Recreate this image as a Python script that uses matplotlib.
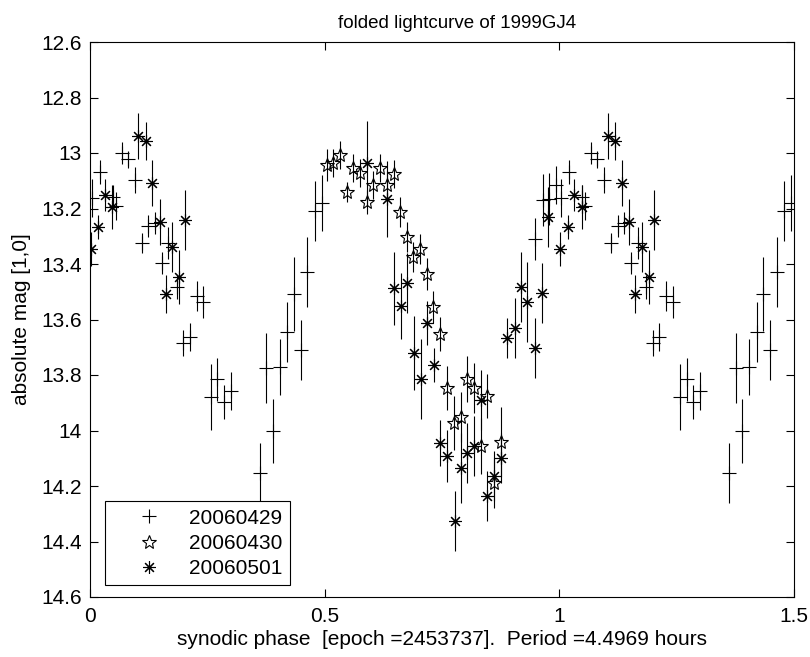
import matplotlib

matplotlib.use("Agg")
import matplotlib.pyplot as plt
import numpy as np
from matplotlib.lines import Line2D

# 20060429 (plus)
fase_0429 = [0.0036, 0.0213, 0.049, 0.055, 0.0675, 0.0803, 0.0959, 0.110, 0.1243,
             0.1385, 0.1528, 0.1669, 0.1847, 0.1988, 0.2131, 0.2273, 0.2415, 0.2572,
             0.2713, 0.2855, 0.2997, 0.3616, 0.3759, 0.3901, 0.4043, 0.4207, 0.4349,
             0.4491, 0.4634, 0.4790, 0.4946, 0.9482, 0.9659, 0.978, 0.993]
mag_0429 = [13.161, 13.067, 13.16, 13.19, 13.001, 13.023, 13.097, 13.325, 13.263,
            13.251, 13.397, 13.323, 13.484, 13.684, 13.664, 13.514, 13.536, 13.878,
            13.816, 13.896, 13.857, 14.152, 13.776, 14.001, 13.772, 13.644, 13.508,
            13.710, 13.428, 13.209, 13.179, 13.311, 13.169, 13.166, 13.115]
err_0429 = [0.068, 0.043, 0.043, 0.050, 0.040, 0.032, 0.047, 0.036, 0.040,
            0.040, 0.040, 0.058, 0.043, 0.047, 0.050, 0.054, 0.058, 0.119,
            0.076, 0.061, 0.068, 0.108, 0.126, 0.115, 0.101, 0.108, 0.133,
            0.108, 0.126, 0.108, 0.101, 0.076, 0.094, 0.094, 0.068]

# 20060430 (estrela)
fase_0430 = [0.5044, 0.5184, 0.5327, 0.548, 0.5611, 0.5753, 0.5910, 0.6038, 0.6180,
             0.6336, 0.6478, 0.6606, 0.6748, 0.689, 0.7032, 0.7174, 0.7315, 0.7466,
             0.7613, 0.7756, 0.7898, 0.8039, 0.8181, 0.8323, 0.8465, 0.8611, 0.875]
mag_0430 = [13.043, 13.037, 13.007, 13.139, 13.053, 13.071, 13.176, 13.115, 13.053,
            13.115, 13.077, 13.212, 13.302, 13.374, 13.347, 13.436, 13.554, 13.652,
            13.848, 13.972, 13.950, 13.816, 13.848, 14.056, 13.876, 14.188, 14.043]
err_0430 = [0.058, 0.050, 0.050, 0.036, 0.050, 0.050, 0.043, 0.050, 0.050,
            0.050, 0.050, 0.054, 0.054, 0.054, 0.054, 0.058, 0.058, 0.061,
            0.079, 0.097, 0.090, 0.083, 0.090, 0.101, 0.079, 0.090, 0.126]

# 20060501 (asterisco)
fase_0501 = [0.0021, 0.0177, 0.032, 0.0475, 0.1029, 0.1187, 0.1328, 0.1492, 0.1613,
             0.1754, 0.1903, 0.2024, 0.5895, 0.6336, 0.6478, 0.662, 0.6762, 0.6904,
             0.7046, 0.7187, 0.7329, 0.7466, 0.7613, 0.7777, 0.7898, 0.804, 0.818,
             0.8323, 0.8465, 0.8611, 0.875, 0.8892, 0.9056, 0.9177, 0.9305, 0.9482,
             0.9625, 0.9766]
mag_0501 = [13.347, 13.266, 13.151, 13.196, 12.939, 12.957, 13.109, 13.248, 13.508,
            13.338, 13.446, 13.241, 13.035, 13.166, 13.488, 13.551, 13.467, 13.720,
            13.814, 13.614, 13.764, 14.044, 14.092, 14.326, 14.136, 14.080, 14.056,
            13.890, 14.236, 14.164, 14.100, 13.668, 13.632, 13.482, 13.536, 13.703,
            13.506, 13.230]
err_0501 = [0.061, 0.043, 0.058, 0.079, 0.083, 0.068, 0.083, 0.083, 0.068,
            0.090, 0.097, 0.108, 0.151, 0.137, 0.133, 0.119, 0.108, 0.133,
            0.144, 0.079, 0.061, 0.083, 0.094, 0.108, 0.126, 0.108, 0.108,
            0.108, 0.090, 0.090, 0.090, 0.072, 0.108, 0.126, 0.144, 0.108,
            0.108, 0.108]

noites = ["20060429", "20060430", "20060501"]

plt.rcParams["font.family"] = ["Liberation Sans", "DejaVu Sans"]
plt.rcParams["font.size"] = 15


def dobrar(fase, mag, err):
    """Repete a parte com fase <= 0.5 em fase + 1."""
    fase, mag, err = np.array(fase), np.array(mag), np.array(err)
    rep = fase <= 0.5
    return (np.concatenate([fase, fase[rep] + 1]),
            np.concatenate([mag, mag[rep]]),
            np.concatenate([err, err[rep]]))


fig = plt.figure(figsize=(8.1, 6.57), dpi=100)
ax = fig.add_axes([90 / 810, 60 / 657, 704 / 810, 555 / 657])

estilos = [
    dict(marker="+", ms=10, mfc="none"),
    dict(marker="*", ms=10, mfc="none"),
    dict(marker=(8, 2, 0), ms=9, mfc="none"),
]
series = [(fase_0429, mag_0429, err_0429),
          (fase_0430, mag_0430, err_0430),
          (fase_0501, mag_0501, err_0501)]

for (f, m, e), est in zip(series, estilos):
    x, y, yerr = dobrar(f, m, e)
    ax.errorbar(x, y, yerr=yerr, fmt="none", ecolor="black", elinewidth=0.8, capsize=0)
    ax.plot(x, y, linestyle="none", color="black", mew=0.8, **est)

ax.set_xlim(0, 1.5)
ax.set_ylim(14.6, 12.6)
ax.set_xticks([0, 0.5, 1, 1.5])
ax.set_xticklabels(["0", "0.5", "1", "1.5"])
yt = np.round(np.arange(12.6, 14.61, 0.2), 1)
ax.set_yticks(yt)
ax.set_yticklabels(["%g" % v for v in yt])
ax.tick_params(direction="in", top=True, right=True, length=6, width=0.8)
ax.tick_params(axis="x", pad=7)
ax.tick_params(axis="y", pad=6)
for s in ax.spines.values():
    s.set_linewidth(0.8)

ax.set_title("folded lightcurve of 1999GJ4", fontsize=13.5, pad=10, x=0.521)
ax.set_xlabel("synodic phase  [epoch =2453737].  Period =4.4969 hours", labelpad=3)
ax.set_ylabel("absolute mag [1,0]", labelpad=7)

alcas = [Line2D([], [], linestyle="none", color="black", mew=0.8, **est) for est in estilos]
leg = ax.legend(alcas, noites, loc="lower left", bbox_to_anchor=(0.021, 0.021),
                fancybox=False, framealpha=1, edgecolor="black", handlelength=3.5,
                handletextpad=0.2, labelspacing=0.3, borderpad=0.35, borderaxespad=0)
leg.get_frame().set_linewidth(0.8)

fig.savefig("out.png", dpi=100)
